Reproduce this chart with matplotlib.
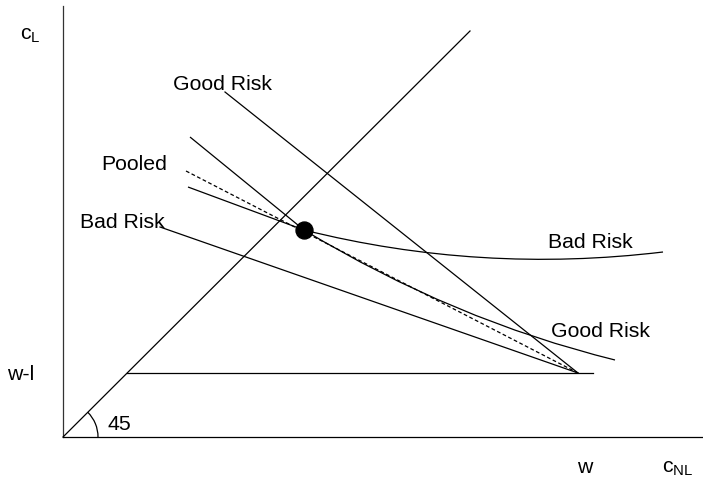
import matplotlib
matplotlib.use("Agg")
import matplotlib.pyplot as plt
from matplotlib.path import Path
from matplotlib.patches import PathPatch, Arc

plt.rcParams["font.family"] = ["Liberation Sans", "DejaVu Sans"]
plt.rcParams["mathtext.default"] = "regular"

# diagram coordinates: c_NL along x, c_L along y (origin at the axes corner)
w = 515          # wealth without loss
wl = 64          # wealth with loss, w-l
line45 = [407, 406]

good_budget_start = [162, 345]
bad_budget_start = [97, 210]
pooled_budget_start = [123, 266]

pool_point = [241, 207]

# indifference curves: start, pooled point, bezier control, end
good_ic = [[127, 300], pool_point, [390, 117], [552, 77]]
bad_ic = [[125, 250], pool_point, [417, 163], [600, 185]]

curve_labels = ["Good Risk", "Pooled", "Bad Risk", "Bad Risk", "Good Risk"]
label_x = [110, 38, 17, 485, 488]
label_y = [348, 268, 210, 190, 101]

fig = plt.figure(figsize=(7.03, 4.81), dpi=100)
ax = fig.add_axes([0, 0, 1, 1])
ax.set_xlim(-63, 640)
ax.set_ylim(-43, 438)
ax.axis("off")

lw = 0.9
ax.plot([0, 0], [0, 431], color="#333333", lw=lw)
ax.plot([0, 640], [0, 0], color="black", lw=lw)
ax.plot([0, line45[0]], [0, line45[1]], color="black", lw=lw)
ax.plot([wl, w + 15], [wl, wl], color="black", lw=lw)

ax.add_patch(Arc((0, 0), 70, 70, theta1=0, theta2=45, color="black", lw=lw))

# budget lines converge at the endowment (w, w-l)
ax.plot([good_budget_start[0], w], [good_budget_start[1], wl], color="black", lw=lw)
ax.plot([bad_budget_start[0], w], [bad_budget_start[1], wl], color="black", lw=lw)
ax.plot([pooled_budget_start[0], w], [pooled_budget_start[1], wl], color="black",
        lw=lw, ls=(0, (3, 2)))

for ic in [good_ic, bad_ic]:
    codes = [Path.MOVETO, Path.LINETO, Path.CURVE3, Path.CURVE3]
    ax.add_patch(PathPatch(Path(ic, codes), fill=False, color="black", lw=lw))

ax.plot(pool_point[0], pool_point[1], "o", color="black", ms=12.2, zorder=5)

fs = 15.3
for txt, x, y in zip(curve_labels, label_x, label_y):
    ax.text(x, y, txt, fontsize=fs, ha="left", va="baseline")

ax.text(-43, 398, "$c_L$", fontsize=fs, ha="left", va="baseline")
ax.text(-56, 58, "w-l", fontsize=fs, ha="left", va="baseline")
ax.text(44, 8, "45", fontsize=fs, ha="left", va="baseline")
ax.text(514, -35, "w", fontsize=fs, ha="left", va="baseline")
ax.text(599, -35, "$c_{NL}$", fontsize=fs, ha="left", va="baseline")

fig.savefig("out.png", dpi=100)
